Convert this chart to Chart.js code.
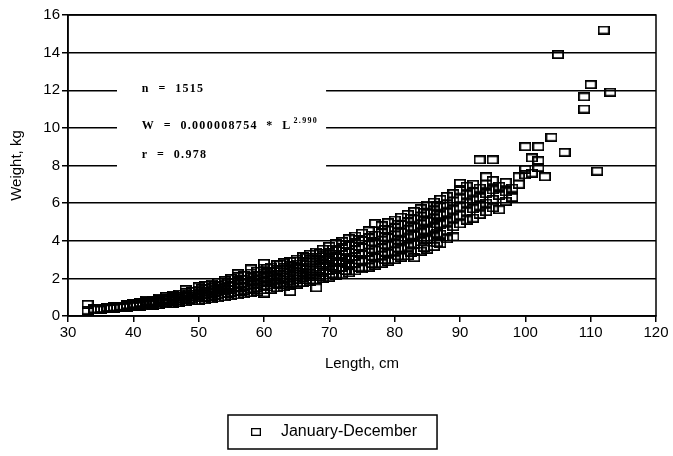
<!DOCTYPE html>
<html>
<head>
<meta charset="utf-8">
<script src="https://cdn.jsdelivr.net/npm/chart.js@4"></script>
<style>
  html, body { margin: 0; padding: 0; background: #fff; }
  #wrap { width: 673px; height: 456px; }
</style>
</head>
<body>
<div id="wrap"><canvas id="fishChart"></canvas></div>
<script>
// length (cm) and the weights (kg) at that length
const lengthCm = [33, 34, 35, 36, 37, 38, 39, 40, 41, 42, 43, 44, 45, 46, 47, 48, 49, 50,
  51, 52, 53, 54, 55, 56, 57, 58, 59, 60, 61, 62, 63, 64, 65, 66, 67, 68, 69, 70,
  71, 72, 73, 74, 75, 76, 77, 78, 79, 80, 81, 82, 83, 84, 85, 86, 87, 88, 89, 90,
  91, 92, 93, 94, 95, 96, 97, 98, 99, 100, 101, 102, 103, 104, 105, 106, 109, 110, 111, 112, 113];
const weightKg = [
  [0.62, 0.30], [0.33, 0.38], [0.36, 0.40, 0.32], [0.38, 0.42, 0.45], [0.41, 0.45, 0.48],
  [0.44, 0.48, 0.52], [0.47, 0.52, 0.56, 0.60], [0.50, 0.55, 0.60, 0.66], [0.52, 0.58, 0.64, 0.72],
  [0.55, 0.62, 0.68, 0.76, 0.84], [0.58, 0.66, 0.74, 0.82, 0.70], [0.62, 0.70, 0.78, 0.88, 0.95],
  [0.65, 0.74, 0.83, 0.92, 1.02], [0.68, 0.78, 0.88, 0.98, 1.10, 0.84], [0.72, 0.82, 0.93, 1.04, 1.16],
  [0.76, 0.88, 0.98, 1.10, 1.24, 1.40], [0.80, 0.92, 1.04, 1.16, 1.30], [0.82, 0.96, 1.10, 1.22, 1.38, 1.55],
  [0.86, 1.00, 1.15, 1.30, 1.45, 1.62], [0.92, 1.06, 1.22, 1.38, 1.52, 1.70], [0.96, 1.12, 1.28, 1.44, 1.60, 1.80],
  [1.02, 1.18, 1.35, 1.52, 1.70, 1.88], [1.08, 1.25, 1.42, 1.60, 1.78, 1.98], [1.12, 1.30, 1.50, 1.68, 1.88, 2.08, 2.25],
  [1.18, 1.38, 1.58, 1.76, 1.96, 2.16], [1.24, 1.45, 1.65, 1.85, 2.05, 2.28, 2.50], [1.30, 1.52, 1.72, 1.95, 2.15, 2.38],
  [1.22, 1.40, 1.62, 1.85, 2.05, 2.28, 2.55, 2.80], [1.42, 1.66, 1.90, 2.12, 2.36, 2.60], [1.50, 1.74, 1.98, 2.22, 2.46, 2.72],
  [1.55, 1.80, 2.05, 2.30, 2.56, 2.82], [1.62, 1.88, 2.14, 2.40, 2.66, 2.90, 1.30], [1.70, 1.96, 2.22, 2.50, 2.76, 3.02],
  [1.78, 2.05, 2.32, 2.60, 2.88, 3.15], [1.85, 2.12, 2.42, 2.70, 2.98, 3.28], [1.92, 2.22, 2.52, 2.82, 3.10, 3.40, 1.50],
  [2.00, 2.30, 2.62, 2.94, 3.24, 3.55], [2.05, 2.40, 2.72, 3.05, 3.38, 3.70], [2.15, 2.48, 2.82, 3.15, 3.50, 3.85],
  [2.22, 2.58, 2.92, 3.28, 3.62, 3.96], [2.30, 2.68, 3.02, 3.40, 3.76, 4.10], [2.40, 2.78, 3.15, 3.52, 3.90, 4.25],
  [2.50, 2.88, 3.26, 3.64, 4.02, 4.40], [2.60, 3.00, 3.38, 3.78, 4.15, 4.52], [2.70, 3.10, 3.50, 3.90, 4.30, 4.92],
  [2.80, 3.22, 3.62, 4.02, 4.42, 4.80], [2.90, 3.32, 3.74, 4.16, 4.56, 4.96], [3.00, 3.45, 3.88, 4.30, 4.70, 5.10],
  [3.12, 3.56, 4.00, 4.44, 4.86, 5.25], [3.20, 3.68, 4.14, 4.58, 5.00, 5.40], [3.10, 3.80, 4.28, 4.72, 5.15, 5.55],
  [3.45, 3.95, 4.42, 4.88, 5.30, 5.70], [3.55, 4.05, 4.55, 5.02, 5.45, 5.90], [3.70, 4.20, 4.70, 5.18, 5.62, 6.05],
  [3.85, 4.35, 4.85, 5.35, 5.80, 6.20], [4.10, 4.55, 5.00, 5.50, 5.95, 6.35], [4.20, 4.75, 5.20, 5.65, 6.10, 6.50],
  [4.90, 5.35, 5.80, 6.25, 6.70, 7.05], [5.10, 5.55, 6.00, 6.45, 6.90], [5.20, 5.70, 6.15, 6.60, 7.00],
  [5.40, 5.85, 6.30, 6.80, 8.30], [5.55, 6.00, 6.50, 7.00, 7.40], [5.75, 6.20, 6.70, 7.20, 8.30],
  [5.65, 6.40, 6.90], [6.10, 6.60, 7.10], [6.30, 6.80], [7.00, 7.40], [7.50, 9.00, 7.80],
  [7.60, 8.40], [8.25, 9.00, 7.90], [7.40], [9.50], [13.90], [8.70], [11.00, 11.65], [12.30], [7.70], [15.20], [11.90]
];
// extra fish filling the dense middle of the cloud (half-centimetre lengths)
const midLengthCm = [36.5, 38.5, 40.5, 42.5, 44.5, 46.5, 48.5, 50.5, 52.5, 54.5, 56.5, 58.5, 60.5,
  62.5, 64.5, 66.5, 68.5, 70.5, 72.5, 74.5, 76.5, 78.5, 80.5, 82.5, 84.5, 86.5];
const midWeightKg = [
  [0.40, 0.44], [0.46, 0.50], [0.54, 0.60], [0.62, 0.70, 0.78], [0.72, 0.82, 0.90], [0.80, 0.92, 1.04],
  [0.90, 1.02, 1.16], [1.00, 1.14, 1.28, 1.45], [1.08, 1.26, 1.42, 1.60], [1.20, 1.40, 1.58, 1.78],
  [1.30, 1.52, 1.74, 1.95], [1.42, 1.66, 1.90, 2.12], [1.55, 1.80, 2.05, 2.30, 2.55],
  [1.68, 1.95, 2.20, 2.48, 2.75], [1.80, 2.08, 2.36, 2.64, 2.92], [1.95, 2.25, 2.55, 2.85, 3.10],
  [2.10, 2.42, 2.72, 3.02, 3.30], [2.25, 2.58, 2.92, 3.25, 3.55], [2.42, 2.78, 3.12, 3.45, 3.80],
  [2.60, 2.98, 3.34, 3.70, 4.05], [2.80, 3.18, 3.56, 3.95, 4.30], [3.00, 3.40, 3.80, 4.20, 4.60],
  [3.20, 3.62, 4.04, 4.46, 4.88], [3.40, 3.85, 4.30, 4.75, 5.20], [3.65, 4.10, 4.58, 5.05, 5.50],
  [3.90, 4.40, 4.90, 5.40, 5.85]
];
const xTicks = [30, 40, 50, 60, 70, 80, 90, 100, 110, 120];
const yTicks = [0, 2, 4, 6, 8, 10, 12, 14, 16];
const seriesName = 'January-December';
const statLines = ['n  =  1515', 'W  =  0.000008754  *  L', 'r  =  0.978'];
const statExponent = '2.990';

const points = [];
lengthCm.forEach((len, i) => weightKg[i].forEach(w => points.push({ x: len, y: w })));
midLengthCm.forEach((len, i) => midWeightKg[i].forEach(w => points.push({ x: len, y: w })));

function boxMarker(w, h, lw) {
  const c = document.createElement('canvas');
  c.width = w; c.height = h;
  const g = c.getContext('2d');
  g.strokeStyle = '#000';
  g.lineWidth = lw;
  g.strokeRect(lw / 2, lw / 2, w - lw, h - lw);
  return c;
}
const marker = boxMarker(12, 9, 1.8);
const legendMarker = boxMarker(10, 8, 1.3);

const FONT = "'Liberation Sans', Arial, sans-serif";

const frameAndNotes = {
  id: 'frameAndNotes',
  beforeDatasetsDraw(chart) {
    const { ctx, chartArea: a, scales: { x, y } } = chart;
    ctx.save();
    // white patch where the statistics sit
    ctx.fillStyle = '#fff';
    const px0 = x.getPixelForValue(37.5), px1 = x.getPixelForValue(69.5);
    const py0 = y.getPixelForValue(12.4), py1 = y.getPixelForValue(7.7);
    ctx.fillRect(px0, py0, px1 - px0, py1 - py0);
    ctx.fillStyle = '#000';
    ctx.font = "bold 12px 'Liberation Serif', 'Times New Roman', serif";
    ctx.letterSpacing = '1.3px';
    ctx.textBaseline = 'middle';
    const tx = x.getPixelForValue(41.3);
    const rows = [12.05, 10.1, 8.55];
    statLines.forEach((t, i) => ctx.fillText(t, tx, y.getPixelForValue(rows[i])));
    const wEnd = tx + ctx.measureText(statLines[1]).width + 2;
    ctx.font = "bold 8px 'Liberation Serif', serif";
    ctx.fillText(statExponent, wEnd, y.getPixelForValue(rows[1]) - 5);
    ctx.letterSpacing = '0px';
    // plot frame
    ctx.strokeStyle = '#000';
    ctx.lineWidth = 1.5;
    ctx.strokeRect(a.left, a.top, a.right - a.left, a.bottom - a.top);
    ctx.restore();
  },
  afterDraw(chart) {
    const hb = chart.legend.legendHitBoxes[0];
    if (!hb) return;
    const { ctx } = chart;
    ctx.save();
    ctx.strokeStyle = '#000';
    ctx.lineWidth = 1.5;
    ctx.strokeRect(hb.left - 11, hb.top - 9, hb.width + 31, hb.height + 18);
    ctx.restore();
  }
};

new Chart(document.getElementById('fishChart'), {
  type: 'scatter',
  data: {
    datasets: [{
      label: seriesName,
      data: points,
      pointStyle: marker,
      borderColor: '#000',
      backgroundColor: 'rgba(0,0,0,0)'
    }]
  },
  options: {
    responsive: true,
    maintainAspectRatio: false,
    animation: false,
    layout: { padding: { top: 15, right: 17, bottom: 6, left: 0 } },
    plugins: {
      tooltip: { enabled: false },
      legend: {
        position: 'bottom',
        labels: {
          usePointStyle: true,
          pointStyle: legendMarker,
          pointStyleWidth: 34,
          padding: 10,
          color: '#000',
          font: { family: FONT, size: 16 }
        }
      }
    },
    scales: {
      x: {
        type: 'linear',
        min: 30, max: 120,
        afterBuildTicks: s => { s.ticks = xTicks.map(v => ({ value: v })); },
        afterFit: s => { s.height = 98; },
        ticks: { color: '#000', padding: 2, font: { family: FONT, size: 15 } },
        grid: { drawOnChartArea: false, drawTicks: true, tickLength: 6, color: '#000', lineWidth: 1.5 },
        border: { display: true, color: '#000', width: 1.5 },
        title: {
          display: true, text: 'Length, cm', color: '#000',
          font: { family: FONT, size: 15 }, padding: { top: 4, bottom: 41 }
        }
      },
      y: {
        type: 'linear',
        min: 0, max: 16,
        afterBuildTicks: s => { s.ticks = yTicks.map(v => ({ value: v })); },
        afterFit: s => { s.width = 68; },
        ticks: { color: '#000', padding: 2, font: { family: FONT, size: 15 } },
        grid: { drawOnChartArea: true, drawTicks: true, tickLength: 6, color: '#000', lineWidth: 1.5 },
        border: { display: true, color: '#000', width: 1.5 },
        title: {
          display: true, text: 'Weight, kg', color: '#000',
          font: { family: FONT, size: 15 }, padding: { top: 8, bottom: 0 }
        }
      }
    }
  },
  plugins: [frameAndNotes]
});
</script>
</body>
</html>
